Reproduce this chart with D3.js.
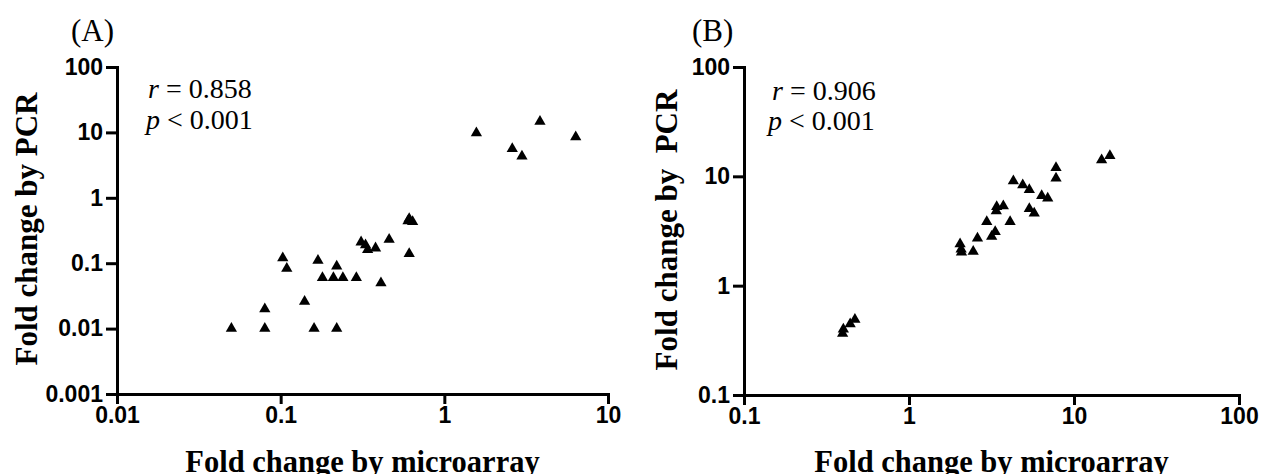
<!DOCTYPE html>
<html>
<head>
<meta charset="utf-8">
<script src="https://cdn.jsdelivr.net/npm/d3@7"></script>
<style>
  html, body { margin: 0; padding: 0; background: #fff; }
  svg { display: block; }
  .tick text { font-family: "Liberation Sans", Arial, sans-serif; font-weight: bold; font-size: 23px; fill: #000; }
  .axis path, .axis line { stroke: #000; stroke-width: 3px; }
  .serif { font-family: "Liberation Serif", "Times New Roman", serif; fill: #000; }
</style>
</head>
<body>
<svg id="chart" width="1261" height="474"></svg>
<script>
// Panel A: fold changes, microarray vs qPCR
const panelA_microarray = [0.05, 0.08, 0.08, 0.103, 0.109, 0.14, 0.16, 0.169, 0.18, 0.21, 0.22, 0.22, 0.24, 0.29,
  0.31, 0.33, 0.34, 0.38, 0.41, 0.46, 0.61, 0.61, 0.64, 0.60, 1.57, 2.6, 2.98, 3.84, 6.35];
const panelA_pcr = [0.01, 0.01, 0.02, 0.12, 0.083, 0.026, 0.01, 0.11, 0.06, 0.06, 0.09, 0.01, 0.06, 0.06,
  0.21, 0.19, 0.16, 0.17, 0.05, 0.23, 0.14, 0.48, 0.43, 0.44, 9.8, 5.6, 4.3, 14.7, 8.5];

// Panel B: fold changes, microarray vs qPCR
const panelB_microarray = [0.396, 0.40, 0.44, 0.47, 2.04, 2.07, 2.08, 2.45, 2.6, 3.17, 3.33, 2.96, 4.1, 3.4,
  3.73, 3.38, 4.29, 4.89, 5.36, 6.37, 6.93, 7.78, 7.78, 5.36, 5.74, 14.7, 16.5];
const panelB_pcr = [0.366, 0.40, 0.447, 0.49, 2.41, 2.15, 2.02, 2.05, 2.72, 2.81, 3.12, 3.85, 3.85, 5.28,
  5.36, 4.82, 9.08, 8.34, 7.52, 6.66, 6.31, 12.0, 9.62, 5.04, 4.59, 14.1, 15.4];

// Tick values and their labels
const panelA_xTicks = [0.01, 0.1, 1, 10];
const panelA_xTickLabels = ["0.01", "0.1", "1", "10"];
const panelA_yTicks = [0.001, 0.01, 0.1, 1, 10, 100];
const panelA_yTickLabels = ["0.001", "0.01", "0.1", "1", "10", "100"];
const panelB_xTicks = [0.1, 1, 10, 100];
const panelB_xTickLabels = ["0.1", "1", "10", "100"];
const panelB_yTicks = [0.1, 1, 10, 100];
const panelB_yTickLabels = ["0.1", "1", "10", "100"];

const svg = d3.select("#chart");

function drawPanel(p) {
  const x = d3.scaleLog().domain(p.xDomain).range([p.left, p.right]);
  const y = d3.scaleLog().domain(p.yDomain).range([p.bottom, p.top]);

  const xAxis = d3.axisBottom(x)
    .tickValues(p.xTicks)
    .tickFormat((d, i) => p.xTickLabels[i])
    .tickSizeInner(10).tickSizeOuter(0).tickPadding(3);
  const yAxis = d3.axisLeft(y)
    .tickValues(p.yTicks)
    .tickFormat((d, i) => p.yTickLabels[i])
    .tickSizeInner(11).tickSizeOuter(0).tickPadding(3);

  svg.append("g").attr("class", "axis")
    .attr("transform", `translate(0,${p.bottom})`).call(xAxis);
  svg.append("g").attr("class", "axis")
    .attr("transform", `translate(${p.left},0)`).call(yAxis);

  // square off the corner where the axes meet
  svg.selectAll(".axis path").attr("stroke-linecap", "square");

  const tri = d3.symbol().type(d3.symbolTriangle).size(55);
  svg.append("g").selectAll("path")
    .data(p.xs.map((v, i) => [v, p.ys[i]]))
    .join("path")
    .attr("d", tri)
    .attr("transform", d => `translate(${x(d[0])},${y(d[1])})`)
    .attr("fill", "#000");

  // panel letter
  svg.append("text").attr("class", "serif")
    .attr("x", p.letterX).attr("y", 41)
    .style("font-size", "31px")
    .text(p.letter);

  // correlation statistics
  const r = svg.append("text").attr("class", "serif")
    .attr("x", p.rX).attr("y", p.rY).style("font-size", "28px");
  r.append("tspan").style("font-style", "italic").text("r");
  r.append("tspan").text(" = " + p.rValue);
  const pv = svg.append("text").attr("class", "serif")
    .attr("x", p.pX).attr("y", p.pY).style("font-size", "28px");
  pv.append("tspan").style("font-style", "italic").text("p");
  pv.append("tspan").text(" < 0.001");

  // axis titles
  svg.append("text").attr("class", "serif")
    .attr("x", (p.left + p.right) / 2).attr("y", 472)
    .attr("text-anchor", "middle")
    .style("font-size", "30.5px").style("font-weight", "bold")
    .text("Fold change by microarray");
  svg.append("text").attr("class", "serif")
    .attr("transform", `translate(${p.yTitleX},${p.yTitleY}) rotate(-90)`)
    .attr("text-anchor", "middle")
    .style("font-size", "31px").style("font-weight", "bold")
    .style("white-space", "pre")
    .text(p.yTitle);
}

drawPanel({
  xDomain: [0.01, 10], yDomain: [0.001, 100],
  left: 117, right: 608, top: 67, bottom: 394,
  xTicks: panelA_xTicks, xTickLabels: panelA_xTickLabels,
  yTicks: panelA_yTicks, yTickLabels: panelA_yTickLabels,
  xs: panelA_microarray, ys: panelA_pcr,
  letter: "(A)", letterX: 71,
  rValue: "0.858", rX: 148, rY: 98, pX: 146, pY: 129,
  yTitle: "Fold change by PCR", yTitleX: 37, yTitleY: 229
});

drawPanel({
  xDomain: [0.1, 100], yDomain: [0.1, 100],
  left: 744, right: 1239, top: 67, bottom: 395,
  xTicks: panelB_xTicks, xTickLabels: panelB_xTickLabels,
  yTicks: panelB_yTicks, yTickLabels: panelB_yTickLabels,
  xs: panelB_microarray, ys: panelB_pcr,
  letter: "(B)", letterX: 692,
  rValue: "0.906", rX: 772, rY: 100, pX: 768, pY: 130,
  yTitle: "Fold change by  PCR", yTitleX: 677, yTitleY: 230
});
</script>
</body>
</html>
